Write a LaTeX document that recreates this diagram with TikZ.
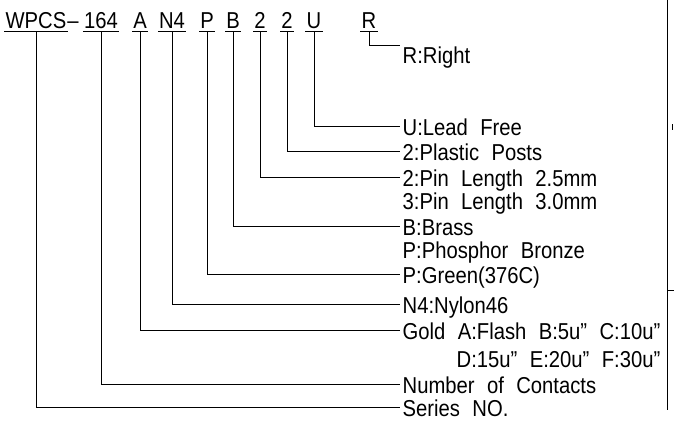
\documentclass[tikz,border=0pt]{standalone}
\usepackage{fontspec}
\setmainfont{Liberation Sans}[FakeStretch=0.88, WordSpace=2.2]
\usetikzlibrary{positioning}
\usetikzlibrary{calc}

\tikzset{
  code/.style={anchor=base, inner xsep=1pt, inner ysep=0pt, font=\fontsize{23}{23}\selectfont},
  lbl/.style={anchor=west, inner xsep=2.5pt, inner ysep=0pt, text height=18pt, text depth=0pt, font=\fontsize{23}{23}\selectfont},
  leader/.style={draw, line width=0.8pt},
}

\begin{document}
\begin{tikzpicture}[x=1pt, y=-1pt]
    \useasboundingbox (0,0) rectangle (674,421);
    \foreach \n/\x/\t in {ser/36/WPCS, num/101/164, gold/140/A, nyl/172/N4, col/207/P, mat/233/B, len/260/2, post/287/2, lead/314/U, dir/369/R} {\node[code] (c\n) at (\x, 28) {\t}; \path[leader] ([yshift=-3.5pt]c\n.base west) -- ([yshift=-3.5pt]c\n.base east);}
    \node[code] (dash) at (73, 28) {–};
    \foreach \n/\y/\t in {lead/126/U:Lead Free, post/151/2:Plastic Posts, len/177/2:Pin Length 2.5mm, mat/226/B:Brass, col/274/P:Green(376C), nyl/304/N4:Nylon46, gold/330/Gold A:Flash B:5u” C:10u”, num/384/Number of Contacts, ser/407/Series NO.} {\node[lbl] (l\n) at (400, \y) {\t}; \path[leader] ([yshift=-3.5pt]c\n.base) |- (l\n.west);}
    \node[lbl, anchor=north west] (ldir) at (400, 45) {R:Right};
    \path[leader] ([yshift=-3.5pt]cdir.base) |- (ldir.north west);
    \node[lbl] (llen3) at (400, 200) {3:Pin Length 3.0mm};
    \node[lbl] (lmat2) at (400, 249) {P:Phosphor Bronze};
    \node[lbl, anchor=east] (lgold2) at (lgold.east |- 0, 358) {D:15u” E:20u” F:30u”};
    % frame edge on the right
    \path[leader] (667, 0) -- (667, 410);
    \path[leader] (667, 290) -- (674, 290);
    \path[leader] (672, 124) -- (672, 130);
  \end{tikzpicture}
\end{document}
